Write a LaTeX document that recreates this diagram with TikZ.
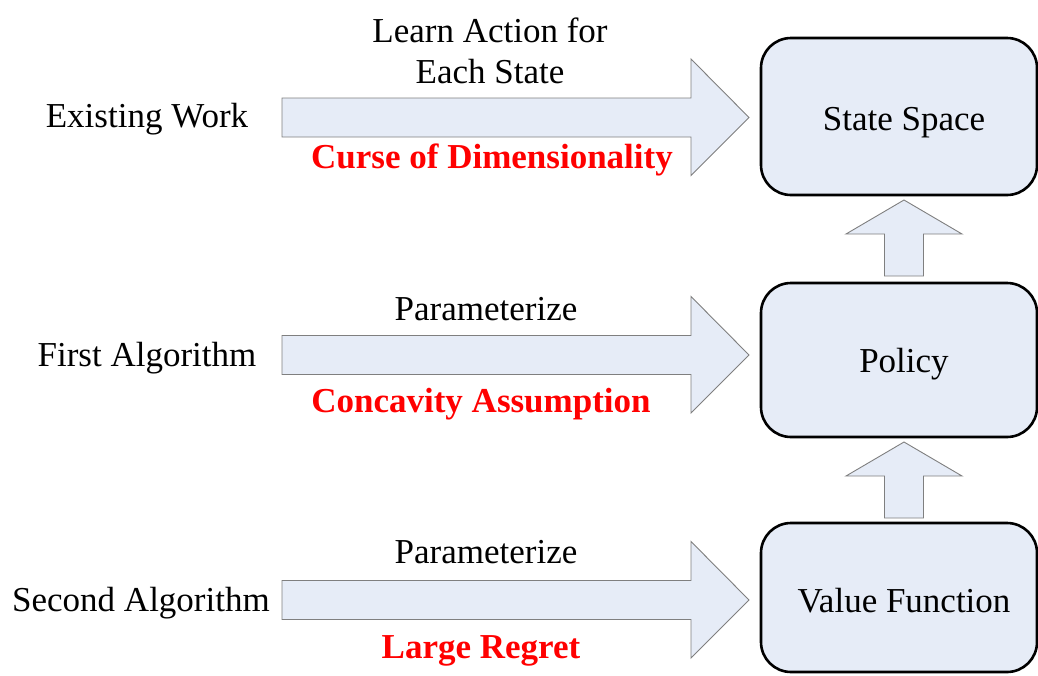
\documentclass[tikz,border=0pt]{standalone}
\usepackage{fontspec}
\setmainfont{Liberation Serif}
\usetikzlibrary{calc}
\definecolor{boxfill}{HTML}{E6ECF7}
\definecolor{arrowedge}{HTML}{7F7F7F}
\definecolor{warnred}{HTML}{FF0000}
\tikzset{
  lbl/.style={anchor=base, inner sep=0pt, font=\fontsize{35}{41}\selectfont},
  warn/.style={lbl, text=warnred, font=\fontsize{35}{41}\selectfont\bfseries},
  stage/.style={draw=black, line width=2.6pt, fill=boxfill, rounded corners=30pt},
  blockarrow/.style={draw=arrowedge, line width=0.9pt, fill=boxfill, line join=miter}
}
\begin{document}
\begin{tikzpicture}[x=1pt,y=-1pt]
\useasboundingbox (0,0) rectangle (1038,675);
% state boxes
\draw[stage] (761,38) rectangle (1037,195);
\draw[stage] (761,283) rectangle (1037,437);
\draw[stage] (761,523) rectangle (1037,672);
\node[lbl] (ss) at (904,130) {State Space};
\node[lbl] (pol) at (904,372) {Policy};
\node[lbl] (vf) at (904,612) {Value Function};
% right block arrows
\foreach \yc/\nm in {117.5/a, 355/b, 600/c}{
  \coordinate (start\nm) at (282,\yc);
  \coordinate (tip\nm) at (749,\yc);
  \draw[blockarrow] ($(start\nm)+(0,-19.5)$) -- ($(start\nm)+(409,-19.5)$) -- ($(start\nm)+(409,-58.5)$)
     -- (tip\nm) -- ($(start\nm)+(409,58)$) -- ($(start\nm)+(409,19.5)$) -- ($(start\nm)+(0,19.5)$) -- cycle;
}
% up block arrows
\foreach \yt/\nm in {200/u, 442/v}{
  \coordinate (uptip\nm) at (904,\yt);
  \draw[blockarrow] (uptip\nm) -- ($(uptip\nm)+(58,34)$) -- ($(uptip\nm)+(19.5,34)$) -- ($(uptip\nm)+(19.5,76)$)
     -- ($(uptip\nm)+(-19.5,76)$) -- ($(uptip\nm)+(-19.5,34)$) -- ($(uptip\nm)+(-58,34)$) -- cycle;
}
% left labels
\node[lbl] (ew) at (147,127) {Existing Work};
\node[lbl] (fa) at (147,366) {First Algorithm};
\node[lbl] (sa) at (141,611) {Second Algorithm};
% arrow labels
\node[lbl] (la) at (490,42) {Learn Action for};
\node[lbl] (es) at (490,83) {Each State};
\node[warn] (cd) at (492,168) {Curse of Dimensionality};
\node[lbl] (p1) at (486,320) {Parameterize};
\node[warn] (ca) at (481,412) {Concavity Assumption};
\node[lbl] (p2) at (486,563) {Parameterize};
\node[warn] (lr) at (481,658) {Large Regret};
\end{tikzpicture}
\end{document}
